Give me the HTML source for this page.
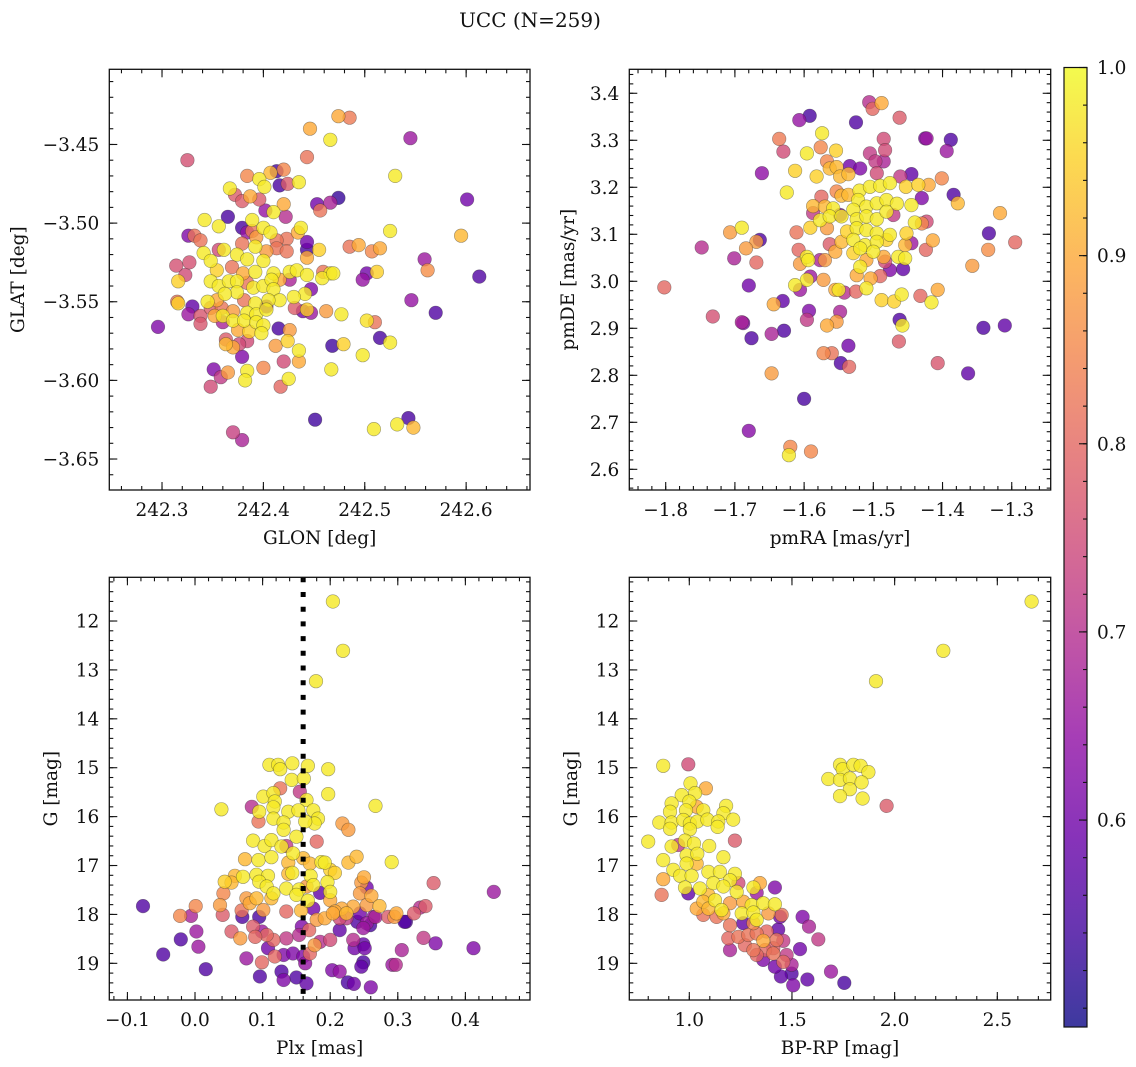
<!DOCTYPE html>
<html><head><meta charset="utf-8"><title>UCC (N=259)</title>
<style>
html,body{margin:0;padding:0;background:#fff;}
svg{display:block;font-family:"DejaVu Serif","Liberation Serif",serif;}
</style></head>
<body>
<svg id="fig" width="1136" height="1067" viewBox="0 0 1136 1067" xmlns="http://www.w3.org/2000/svg">
<text x="530" y="27" font-size="20" text-anchor="middle" fill="#111">UCC (N=259)</text>
</svg>
<script>
// Panel 1: GLON, GLAT, membership probability
const glonGlat = [
[242.474,-3.432,.90],[242.485,-3.433,.83],[242.446,-3.440,.90],[242.466,-3.447,.98],[242.545,-3.446,.66],[242.325,-3.460,.76],[242.443,-3.458,.82],[242.530,-3.470,.98],[242.601,-3.485,.60],[242.474,-3.484,.53],
[242.466,-3.487,.68],[242.453,-3.488,.60],[242.456,-3.492,.82],[242.525,-3.505,.98],[242.595,-3.508,.92],[242.485,-3.515,.82],[242.494,-3.514,.90],[242.507,-3.518,.85],[242.515,-3.516,.90],[242.559,-3.523,.66],
[242.562,-3.530,.86],[242.613,-3.534,.56],[242.502,-3.532,.60],[242.498,-3.536,.65],[242.512,-3.531,.95],[242.546,-3.549,.65],[242.570,-3.557,.56],[242.502,-3.562,.97],[242.510,-3.563,.82],[242.515,-3.573,.55],
[242.525,-3.576,.98],[242.468,-3.578,.54],[242.479,-3.577,.95],[242.498,-3.584,.98],[242.467,-3.593,.98],[242.451,-3.625,.54],[242.543,-3.624,.55],[242.532,-3.628,.98],[242.548,-3.630,.92],[242.509,-3.631,.98],
[242.370,-3.633,.73],[242.379,-3.638,.68],[242.296,-3.566,.62],[242.348,-3.604,.75],[242.351,-3.593,.62],[242.358,-3.598,.72],[242.365,-3.595,.88],[242.384,-3.594,.98],[242.382,-3.600,.98],[242.417,-3.604,.80],
[242.425,-3.599,.98],[242.420,-3.588,.75],[242.435,-3.588,.90],[242.435,-3.581,.98],[242.400,-3.592,.85],[242.412,-3.578,.88],[242.424,-3.575,.95],[242.379,-3.585,.62],[242.363,-3.577,.92],[242.370,-3.579,.90],
[242.363,-3.574,.78],[242.314,-3.527,.76],[242.327,-3.525,.76],[242.323,-3.533,.75],[242.316,-3.537,.95],[242.315,-3.550,.82],[242.316,-3.551,.95],[242.330,-3.553,.58],[242.326,-3.558,.66],[242.338,-3.559,.77],
[242.338,-3.564,.77],[242.326,-3.508,.62],[242.332,-3.508,.82],[242.338,-3.511,.82],[242.342,-3.498,.98],[242.356,-3.502,.98],[242.365,-3.496,.55],[242.367,-3.478,.98],[242.372,-3.482,.78],[242.379,-3.486,.78],
[242.384,-3.470,.85],[242.396,-3.472,.98],[242.401,-3.477,.98],[242.387,-3.483,.90],[242.396,-3.485,.78],[242.407,-3.468,.92],[242.413,-3.467,.55],[242.420,-3.466,.85],[242.416,-3.476,.55],[242.424,-3.475,.78],
[242.435,-3.474,.98],[242.420,-3.488,.90],[242.402,-3.492,.65],[242.410,-3.493,.98],[242.422,-3.496,.70],[242.379,-3.503,.55],[242.389,-3.498,.98],[242.384,-3.506,.65],[242.389,-3.505,.82],[242.400,-3.503,.98],
[242.407,-3.506,.98],[242.423,-3.510,.82],[242.434,-3.506,.90],[242.437,-3.503,.98],[242.443,-3.512,.60],[242.443,-3.517,.55],[242.443,-3.522,.90],[242.455,-3.517,.95],[242.413,-3.511,.82],[242.393,-3.509,.88],
[242.379,-3.513,.82],[242.392,-3.515,.98],[242.403,-3.518,.88],[242.413,-3.516,.82],[242.423,-3.518,.82],[242.356,-3.517,.75],[242.361,-3.517,.98],[242.341,-3.519,.98],[242.348,-3.524,.98],[242.354,-3.530,.95],
[242.374,-3.520,.98],[242.384,-3.523,.98],[242.369,-3.528,.82],[242.380,-3.532,.90],[242.392,-3.531,.98],[242.400,-3.524,.98],[242.410,-3.532,.98],[242.416,-3.536,.90],[242.426,-3.531,.98],[242.433,-3.530,.98],
[242.443,-3.533,.98],[242.459,-3.531,.82],[242.466,-3.532,.98],[242.458,-3.535,.98],[242.469,-3.532,.98],[242.426,-3.536,.68],[242.348,-3.537,.98],[242.356,-3.540,.98],[242.366,-3.537,.98],[242.374,-3.537,.98],
[242.384,-3.538,.82],[242.390,-3.541,.98],[242.400,-3.540,.98],[242.408,-3.536,.98],[242.410,-3.542,.98],[242.447,-3.542,.62],[242.441,-3.545,.98],[242.430,-3.547,.98],[242.416,-3.549,.98],[242.405,-3.549,.98],
[242.392,-3.551,.98],[242.381,-3.549,.82],[242.374,-3.544,.98],[242.362,-3.545,.98],[242.354,-3.549,.90],[242.345,-3.550,.98],[242.359,-3.554,.82],[242.352,-3.559,.90],[242.360,-3.559,.98],[242.370,-3.556,.88],
[242.384,-3.557,.98],[242.393,-3.558,.98],[242.403,-3.555,.98],[242.403,-3.553,.60],[242.431,-3.554,.78],[242.439,-3.556,.60],[242.447,-3.557,.66],[242.443,-3.555,.95],[242.462,-3.556,.88],[242.477,-3.558,.98],
[242.360,-3.563,.68],[242.370,-3.562,.98],[242.381,-3.562,.98],[242.393,-3.563,.98],[242.400,-3.565,.98],[242.398,-3.570,.98],[242.415,-3.567,.55],[242.426,-3.568,.88],[242.386,-3.569,.95],[242.375,-3.568,.90],
[242.384,-3.575,.75],[242.376,-3.577,.75],[242.348,-3.554,.78]
];
// Panel 2: pmRA, pmDE, probability
const pmraPmde = [
[-1.506,3.381,.70],[-1.488,3.379,.90],[-1.501,3.367,.80],[-1.607,3.343,.65],[-1.592,3.352,.55],[-1.525,3.338,.56],[-1.462,3.348,.78],[-1.574,3.315,.98],[-1.636,3.303,.83],[-1.485,3.303,.75],
[-1.425,3.304,.62],[-1.423,3.304,.66],[-1.388,3.301,.56],[-1.630,3.276,.75],[-1.596,3.272,.98],[-1.576,3.285,.85],[-1.554,3.278,.95],[-1.505,3.272,.72],[-1.483,3.279,.75],[-1.394,3.277,.66],
[-1.567,3.255,.85],[-1.497,3.255,.72],[-1.485,3.255,.68],[-1.661,3.230,.64],[-1.613,3.235,.95],[-1.582,3.223,.95],[-1.563,3.240,.92],[-1.553,3.243,.92],[-1.534,3.245,.60],[-1.519,3.240,.62],
[-1.548,3.223,.92],[-1.536,3.228,.92],[-1.495,3.230,.75],[-1.445,3.228,.58],[-1.461,3.223,.72],[-1.401,3.219,.85],[-1.625,3.189,.98],[-1.575,3.180,.80],[-1.553,3.191,.85],[-1.546,3.182,.92],
[-1.536,3.184,.92],[-1.520,3.193,.98],[-1.505,3.201,.98],[-1.490,3.203,.98],[-1.476,3.209,.98],[-1.453,3.201,.95],[-1.435,3.205,.95],[-1.420,3.205,.90],[-1.430,3.177,.62],[-1.384,3.184,.56],
[-1.378,3.166,.92],[-1.587,3.160,.92],[-1.570,3.159,.92],[-1.558,3.155,.98],[-1.548,3.141,.62],[-1.522,3.173,.98],[-1.510,3.159,.98],[-1.495,3.166,.98],[-1.481,3.173,.98],[-1.466,3.165,.98],
[-1.445,3.162,.98],[-1.423,3.127,.75],[-1.587,3.145,.72],[-1.577,3.130,.98],[-1.563,3.138,.98],[-1.546,3.138,.98],[-1.529,3.152,.98],[-1.524,3.132,.98],[-1.510,3.138,.98],[-1.495,3.132,.98],
[-1.481,3.148,.98],[-1.471,3.141,.72],[-1.440,3.125,.98],[-1.430,3.123,.85],[-1.317,3.145,.90],[-1.690,3.114,.98],[-1.707,3.104,.88],[-1.664,3.088,.56],[-1.669,3.084,.88],[-1.591,3.114,.95],
[-1.567,3.113,.88],[-1.538,3.106,.95],[-1.524,3.113,.98],[-1.510,3.109,.98],[-1.495,3.102,.98],[-1.476,3.099,.98],[-1.452,3.102,.95],[-1.611,3.104,.82],[-1.333,3.102,.56],[-1.748,3.072,.70],
[-1.684,3.070,.88],[-1.701,3.049,.68],[-1.669,3.040,.80],[-1.563,3.079,.78],[-1.546,3.084,.92],[-1.529,3.088,.98],[-1.512,3.077,.98],[-1.495,3.084,.98],[-1.481,3.088,.95],[-1.454,3.077,.92],
[-1.445,3.081,.66],[-1.414,3.087,.90],[-1.424,3.067,.80],[-1.295,3.083,.80],[-1.334,3.067,.86],[-1.608,3.067,.80],[-1.596,3.052,.98],[-1.606,3.037,.88],[-1.594,3.045,.98],[-1.577,3.045,.68],
[-1.570,3.045,.88],[-1.555,3.063,.90],[-1.529,3.060,.95],[-1.519,3.070,.98],[-1.500,3.063,.98],[-1.485,3.052,.90],[-1.464,3.052,.98],[-1.454,3.049,.98],[-1.483,3.042,.75],[-1.510,3.045,.90],
[-1.519,3.031,.98],[-1.524,3.013,.90],[-1.476,3.024,.62],[-1.457,3.026,.58],[-1.490,3.011,.80],[-1.504,3.006,.90],[-1.591,3.010,.66],[-1.572,3.003,.88],[-1.596,3.003,.98],[-1.613,2.992,.98],
[-1.606,2.982,.66],[-1.555,2.982,.90],[-1.550,2.982,.98],[-1.542,2.976,.70],[-1.525,2.978,.80],[-1.510,2.985,.98],[-1.488,2.960,.95],[-1.470,2.957,.95],[-1.459,2.972,.98],[-1.432,2.969,.80],
[-1.416,2.955,.98],[-1.407,2.982,.90],[-1.357,3.033,.88],[-1.802,2.987,.80],[-1.680,2.991,.60],[-1.644,2.951,.90],[-1.631,2.958,.58],[-1.593,2.937,.62],[-1.596,2.918,.72],[-1.548,2.935,.68],
[-1.553,2.914,.88],[-1.567,2.906,.90],[-1.462,2.918,.56],[-1.458,2.906,.98],[-1.732,2.925,.76],[-1.690,2.913,.68],[-1.688,2.911,.62],[-1.676,2.879,.56],[-1.647,2.888,.68],[-1.629,2.895,.56],
[-1.536,2.863,.60],[-1.572,2.847,.85],[-1.560,2.847,.82],[-1.547,2.826,.56],[-1.535,2.818,.80],[-1.463,2.872,.78],[-1.407,2.826,.77],[-1.341,2.901,.56],[-1.310,2.906,.58],[-1.363,2.804,.58],
[-1.647,2.804,.88],[-1.600,2.750,.55],[-1.680,2.682,.63],[-1.620,2.648,.85],[-1.622,2.630,.98],[-1.590,2.638,.85]
];
// Panel 3: Plx, G, probability
const plxG = [
[0.204,11.60,.98],[0.219,12.61,.98],[0.179,13.23,.98],[0.110,14.94,.98],[0.123,14.94,.98],[0.126,15.03,.98],[0.144,14.91,.98],[0.167,14.96,.98],[0.197,15.03,.98],[0.143,15.25,.98],
[0.161,15.22,.98],[0.126,15.42,.82],[0.155,15.49,.72],[0.197,15.54,.98],[0.101,15.59,.98],[0.116,15.52,.98],[0.118,15.69,.98],[0.165,15.66,.98],[0.039,15.85,.98],[0.084,15.80,.70],
[0.095,15.90,.98],[0.116,15.81,.98],[0.138,15.90,.98],[0.153,15.87,.98],[0.175,15.87,.98],[0.182,16.04,.98],[0.177,16.14,.98],[0.163,16.10,.98],[0.116,16.04,.98],[0.131,16.12,.98],
[0.094,16.10,.82],[0.267,15.78,.98],[0.218,16.14,.88],[0.227,16.27,.88],[0.131,16.27,.98],[0.150,16.41,.98],[0.180,16.51,.80],[0.086,16.49,.98],[0.103,16.60,.98],[0.113,16.48,.98],
[0.128,16.61,.98],[0.135,16.60,.72],[0.145,16.75,.98],[0.160,16.85,.92],[0.074,16.87,.92],[0.094,16.89,.98],[0.113,16.83,.98],[0.138,16.94,.92],[0.170,16.96,.92],[0.187,16.93,.98],
[0.192,16.94,.98],[0.227,16.94,.92],[0.239,16.82,.92],[0.291,16.93,.98],[0.200,17.09,.95],[0.207,17.15,.95],[0.059,17.21,.92],[0.054,17.35,.92],[0.044,17.33,.95],[0.071,17.23,.98],
[0.091,17.19,.98],[0.108,17.21,.98],[0.138,17.17,.92],[0.144,17.15,.98],[0.171,17.21,.98],[0.175,17.40,.98],[0.196,17.34,.98],[0.246,17.35,.88],[0.250,17.24,.90],[0.095,17.33,.98],
[0.106,17.43,.98],[0.135,17.47,.98],[0.154,17.49,.98],[0.165,17.43,.88],[0.185,17.56,.58],[0.200,17.54,.98],[0.254,17.45,.60],[0.353,17.36,.78],[0.442,17.54,.66],[0.042,17.57,.85],
[0.076,17.67,.88],[0.091,17.67,.92],[0.113,17.67,.92],[0.116,17.57,.98],[0.150,17.60,.98],[0.167,17.72,.98],[0.200,17.71,.90],[0.244,17.57,.88],[0.261,17.62,.90],[0.273,17.83,.92],
[0.254,17.81,.88],[0.234,17.84,.90],[0.217,17.88,.90],[0.207,17.94,.90],[0.224,17.98,.92],[0.244,17.98,.60],[0.264,18.05,.65],[0.298,17.98,.90],[0.295,18.05,.88],[0.286,18.05,.78],
[0.312,18.15,.56],[0.333,17.86,.70],[0.341,17.83,.78],[0.324,17.98,.78],[-0.077,17.83,.56],[0.001,17.83,.85],[-0.022,18.03,.85],[-0.006,18.03,.68],[0.037,17.81,.88],[0.041,18.01,.78],
[0.069,17.92,.82],[0.070,18.05,.56],[0.081,17.77,.90],[0.101,17.91,.88],[0.095,18.05,.55],[0.135,17.94,.80],[0.157,17.92,.92],[0.175,17.88,.60],[0.180,18.11,.88],[0.192,18.08,.90],
[0.204,17.98,.90],[0.214,18.08,.75],[0.224,18.08,.72],[0.240,18.15,.56],[0.254,18.18,.66],[0.267,18.05,.68],[0.158,18.25,.62],[0.169,18.32,.80],[0.154,18.42,.70],[0.135,18.49,.72],
[0.116,18.52,.80],[0.106,18.42,.80],[0.086,18.25,.78],[0.099,18.35,.66],[0.089,18.46,.80],[0.054,18.35,.78],[0.067,18.49,.88],[0.002,18.35,.66],[0.005,18.66,.66],[-0.021,18.51,.56],
[-0.047,18.82,.56],[0.108,18.69,.60],[0.118,18.86,.80],[0.131,18.83,.62],[0.145,18.80,.62],[0.160,18.86,.62],[0.170,18.80,.80],[0.177,18.63,.88],[0.185,18.56,.70],[0.200,18.52,.75],
[0.214,18.32,.58],[0.234,18.52,.70],[0.236,18.69,.60],[0.249,18.28,.66],[0.249,18.61,.58],[0.251,18.69,.60],[0.259,18.22,.55],[0.310,18.15,.56],[0.338,18.48,.72],[0.356,18.59,.62],
[0.412,18.69,.62],[0.306,18.73,.68],[0.292,19.03,.66],[0.297,19.03,.70],[0.076,18.90,.66],[0.099,18.98,.80],[0.016,19.12,.56],[0.096,19.27,.56],[0.128,19.17,.56],[0.131,19.34,.62],
[0.150,19.29,.56],[0.163,19.00,.65],[0.203,19.14,.62],[0.214,19.17,.65],[0.226,19.39,.55],[0.235,19.42,.60],[0.246,19.07,.58],[0.249,18.98,.55],[0.260,19.49,.62],[0.165,19.41,.58]
];
// Panel 4: BP-RP, G, probability
const bprpG = [
[2.667,11.60,.98],[2.237,12.61,.98],[1.909,13.23,.98],[0.873,14.96,.98],[0.995,14.93,.75],[1.734,14.94,.98],[1.747,15.03,.98],[1.799,14.94,.98],[1.834,14.96,.98],[1.872,15.09,.98],
[1.677,15.23,.98],[1.734,15.25,.98],[1.782,15.22,.98],[1.839,15.30,.98],[1.782,15.44,.98],[1.734,15.58,.98],[1.844,15.63,.98],[1.961,15.78,.78],[1.006,15.32,.98],[1.081,15.42,.90],
[1.028,15.52,.98],[0.963,15.56,.98],[1.000,15.69,.98],[0.914,15.73,.98],[0.906,15.90,.98],[0.984,15.87,.98],[1.036,15.80,.90],[1.068,15.87,.98],[1.179,15.78,.98],[1.166,15.93,.98],
[0.854,16.12,.98],[0.914,16.12,.98],[0.971,16.07,.98],[1.003,16.14,.98],[1.039,16.10,.98],[1.088,16.06,.98],[1.141,16.10,.98],[1.214,16.06,.98],[1.138,16.21,.98],[0.906,16.25,.98],
[1.003,16.26,.98],[0.800,16.51,.98],[0.979,16.49,.98],[1.023,16.55,.98],[0.914,16.61,.98],[1.097,16.60,.98],[1.222,16.49,.78],[0.946,16.58,.72],[0.873,16.89,.98],[0.987,16.79,.98],
[1.039,16.76,.98],[1.166,16.83,.98],[0.922,17.09,.98],[0.987,16.96,.98],[1.036,16.96,.92],[0.955,17.21,.98],[1.011,17.21,.98],[1.093,17.13,.98],[1.149,17.13,.98],[1.222,17.17,.98],
[1.117,17.36,.98],[1.198,17.30,.98],[1.239,17.36,.75],[0.873,17.28,.90],[0.865,17.60,.82],[0.979,17.45,.98],[0.995,17.57,.58],[1.052,17.47,.98],[1.093,17.60,.92],[1.166,17.43,.98],
[1.231,17.54,.98],[1.312,17.45,.98],[1.344,17.36,.90],[1.417,17.45,.62],[1.328,17.56,.66],[1.068,17.74,.92],[1.125,17.71,.98],[1.036,17.88,.90],[1.093,17.88,.92],[1.157,17.91,.98],
[1.198,17.77,.88],[1.263,17.74,.90],[1.304,17.81,.98],[1.360,17.77,.98],[1.417,17.79,.98],[1.068,18.01,.82],[1.133,18.05,.82],[1.166,17.98,.90],[1.255,17.98,.98],[1.312,17.96,.98],
[1.328,18.11,.98],[1.385,17.98,.88],[1.450,18.01,.82],[1.442,18.05,.60],[1.552,18.05,.62],[1.198,18.22,.82],[1.263,18.18,.58],[1.312,18.18,.85],[1.377,18.35,.80],[1.433,18.31,.58],
[1.190,18.49,.80],[1.239,18.46,.82],[1.287,18.42,.82],[1.328,18.39,.82],[1.360,18.54,.90],[1.425,18.52,.82],[1.458,18.54,.72],[1.198,18.73,.68],[1.271,18.63,.80],[1.312,18.73,.82],
[1.369,18.73,.80],[1.409,18.69,.78],[1.539,18.71,.60],[1.583,18.25,.68],[1.628,18.51,.72],[1.328,18.83,.80],[1.360,18.93,.62],[1.409,18.80,.82],[1.458,18.97,.80],[1.498,19.03,.68],
[1.417,19.07,.60],[1.446,19.27,.58],[1.498,19.21,.56],[1.506,19.45,.62],[1.575,19.33,.58],[1.690,19.17,.66],[1.755,19.40,.55],[1.474,18.83,.72]
];
// Reference parallax line
const plxRef = [0.16];
// Tick labels
const p1xTicks = [242.3,242.4,242.5,242.6];
const p1yTicks = [-3.45,-3.50,-3.55,-3.60,-3.65];
const p2xTicks = [-1.8,-1.7,-1.6,-1.5,-1.4,-1.3];
const p2yTicks = [2.6,2.7,2.8,2.9,3.0,3.1,3.2,3.3,3.4];
const p3xTicks = [-0.1,0.0,0.1,0.2,0.3,0.4];
const gTicks = [12,13,14,15,16,17,18,19];
const p4xTicks = [1.0,1.5,2.0,2.5];
const cbTicks = [0.6,0.7,0.8,0.9,1.0];
const cbMin = 0.49, cbMax = 1.0;

const NS = 'http://www.w3.org/2000/svg';
const svg = document.getElementById('fig');
const FS = 18.5;
function mk(tag, attrs, parent){
  const e = document.createElementNS(NS, tag);
  for (const k in attrs) e.setAttribute(k, attrs[k]);
  (parent||svg).appendChild(e);
  return e;
}
const stops = ['#0d0887','#41049d','#6a00a8','#8f0da4','#b12a90','#cc4778','#e16462','#f2844b','#fca636','#fcce25','#f0f921'];
function hex(h){return [parseInt(h.substr(1,2),16),parseInt(h.substr(3,2),16),parseInt(h.substr(5,2),16)];}
function plasma(t){
  t = Math.max(0, Math.min(1, t));
  const f = t*10, i = Math.min(9, Math.floor(f)), u = f - i;
  const a = hex(stops[i]), b = hex(stops[i+1]);
  return 'rgb('+a.map((v,k)=>Math.round(v+(b[k]-v)*u)).join(',')+')';
}
function fmt(v, d){ const s = Math.abs(v).toFixed(d); return (v < -1e-9 ? '\u2212' : '') + s; }

function panel(cfg){
  const {x0,x1,y0,y1,xd,yd} = cfg;
  const sx = v => x0 + (v - xd[0]) / (xd[1] - xd[0]) * (x1 - x0);
  const sy = v => y0 + (v - yd[0]) / (yd[1] - yd[0]) * (y1 - y0);
  const g = mk('g', {});
  
  
  const cid = 'clip-' + cfg.name;
  const cp = mk('clipPath', {id: cid}, g);
  mk('rect', {x:x0, y:y0, width:x1-x0, height:y1-y0}, cp);
  const marks = mk('g', {'clip-path':'url(#'+cid+')'}, g);
  
  
  const pts = cfg.data.slice().sort((a,b)=>a[2]-b[2]);
  pts.forEach(p => {
    const c = mk('circle', {cx: sx(p[0]).toFixed(1), cy: sy(p[1]).toFixed(1), r: 6.8,
      fill: plasma((p[2]-cbMin)/(cbMax-cbMin)), 'fill-opacity': 0.8,
      stroke: 'rgba(40,40,40,0.45)', 'stroke-width': 0.6}, marks);
    
    
  });
  if (cfg.vline) {
    cfg.vline.forEach(v => {
      const l = mk('line', {x1: sx(v), x2: sx(v), y1: y0, y2: y1, stroke:'#000', 'stroke-width':5, 'stroke-dasharray':'5 9.7'}, g);
      
      
    });
  }
  const tg = mk('g', {stroke:'#111', 'stroke-width':1.1}, g);
  
  
  function ticksX(step, len){
    const k0 = Math.ceil(Math.min(xd[0],xd[1])/step - 1e-6), k1 = Math.floor(Math.max(xd[0],xd[1])/step + 1e-6);
    for (let k=k0;k<=k1;k++){ const x = sx(k*step);
      mk('line',{x1:x,x2:x,y1:y1,y2:y1-len},tg); mk('line',{x1:x,x2:x,y1:y0,y2:y0+len},tg); }
  }
  function ticksY(step, len){
    const lo=Math.min(yd[0],yd[1]), hi=Math.max(yd[0],yd[1]);
    const k0 = Math.ceil(lo/step - 1e-6), k1 = Math.floor(hi/step + 1e-6);
    for (let k=k0;k<=k1;k++){ const y = sy(k*step);
      mk('line',{x1:x0,x2:x0+len,y1:y,y2:y},tg); mk('line',{x1:x1,x2:x1-len,y1:y,y2:y},tg); }
  }
  ticksX(cfg.xminor, 4); ticksY(cfg.yminor, 4);
  cfg.xt.forEach(v => { const x = sx(v); mk('line',{x1:x,x2:x,y1:y1,y2:y1-8},tg); mk('line',{x1:x,x2:x,y1:y0,y2:y0+8},tg);
    const t = mk('text',{x:x, y:y1+26, 'font-size':FS, 'text-anchor':'middle', fill:'#111'}, g);
    t.textContent = fmt(v, cfg.xdec);
    
     });
  cfg.yt.forEach(v => { const y = sy(v); mk('line',{x1:x0,x2:x0+8,y1:y,y2:y},tg); mk('line',{x1:x1,x2:x1-8,y1:y,y2:y},tg);
    const t = mk('text',{x:x0-10, y:y+6.5, 'font-size':FS, 'text-anchor':'end', fill:'#111'}, g);
    t.textContent = fmt(v, cfg.ydec);
    
     });
  const fr = mk('rect',{x:x0,y:y0,width:x1-x0,height:y1-y0,fill:'none',stroke:'#111','stroke-width':1.3}, g);
  
  
  const xl = mk('text',{x:(x0+x1)/2, y:y1+54, 'font-size':FS, 'text-anchor':'middle', fill:'#111'}, g);
  xl.textContent = cfg.xlabel;
  
  
  const yl = mk('text',{x:0, y:0, 'font-size':FS, 'text-anchor':'middle', fill:'#111',
    transform:'translate('+cfg.ylx+','+((y0+y1)/2)+') rotate(-90)'}, g);
  yl.textContent = cfg.ylabel;
  
  
}

panel({name:'glon-glat-panel', x0:109.3,x1:530,y0:69.3,y1:490, xd:[242.248,242.663], yd:[-3.4022,-3.6697],
  data:glonGlat, xt:p1xTicks, yt:p1yTicks, xdec:1, ydec:2, xminor:0.02, yminor:0.01,
  xlabel:'GLON [deg]', ylabel:'GLAT [deg]', ylx:24});
panel({name:'pm-panel', x0:629.3,x1:1050.7,y0:69.3,y1:490, xd:[-1.8526,-1.2437], yd:[3.451,2.556],
  data:pmraPmde, xt:p2xTicks, yt:p2yTicks, xdec:1, ydec:1, xminor:0.02, yminor:0.02,
  xlabel:'pmRA [mas/yr]', ylabel:'pmDE [mas/yr]', ylx:574});
panel({name:'plx-g-panel', x0:109.3,x1:530,y0:577.3,y1:1000, xd:[-0.1268,0.4956], yd:[11.106,19.75],
  data:plxG, xt:p3xTicks, yt:gTicks, xdec:1, ydec:0, xminor:0.02, yminor:0.2, vline:plxRef,
  xlabel:'Plx [mas]', ylabel:'G [mag]', ylx:57});
panel({name:'cmd-panel', x0:629.3,x1:1050.7,y0:577.3,y1:1000, xd:[0.7078,2.760], yd:[11.106,19.75],
  data:bprpG, xt:p4xTicks, yt:gTicks, xdec:1, ydec:0, xminor:0.1, yminor:0.2,
  xlabel:'BP-RP [mag]', ylabel:'G [mag]', ylx:577});

(function(){
  const cx0=1064, cx1=1087, cy0=67.5, cy1=1027;
  const cb = mk('g',{});
  
  
  const defs = mk('defs',{},cb);
  const lg = mk('linearGradient',{id:'cbgrad',x1:0,y1:1,x2:0,y2:0},defs);
  for (let i=0;i<=20;i++){ mk('stop',{offset:(i/20), 'stop-color':plasma(i/20)},lg); }
  mk('rect',{x:cx0,y:cy0,width:cx1-cx0,height:cy1-cy0,fill:'url(#cbgrad)','fill-opacity':0.8},cb);
  const sy = v => cy0 + (cbMax - v)/(cbMax-cbMin)*(cy1-cy0);
  const tg = mk('g',{stroke:'#111','stroke-width':1.1},cb);
  for (let k=25;k<=50;k++){ const y=sy(k*0.02); mk('line',{x1:cx1,x2:cx1-4,y1:y,y2:y},tg); }
  cbTicks.forEach(v=>{ const y=sy(v); mk('line',{x1:cx1,x2:cx1-8,y1:y,y2:y},tg);
    const t = mk('text',{x:cx1+10,y:y+6.5,'font-size':FS,fill:'#111'},cb);
    t.textContent = v.toFixed(1);
    
     });
  mk('rect',{x:cx0,y:cy0,width:cx1-cx0,height:cy1-cy0,fill:'none',stroke:'#111','stroke-width':1.2},cb);
})();
</script>
</body></html>
